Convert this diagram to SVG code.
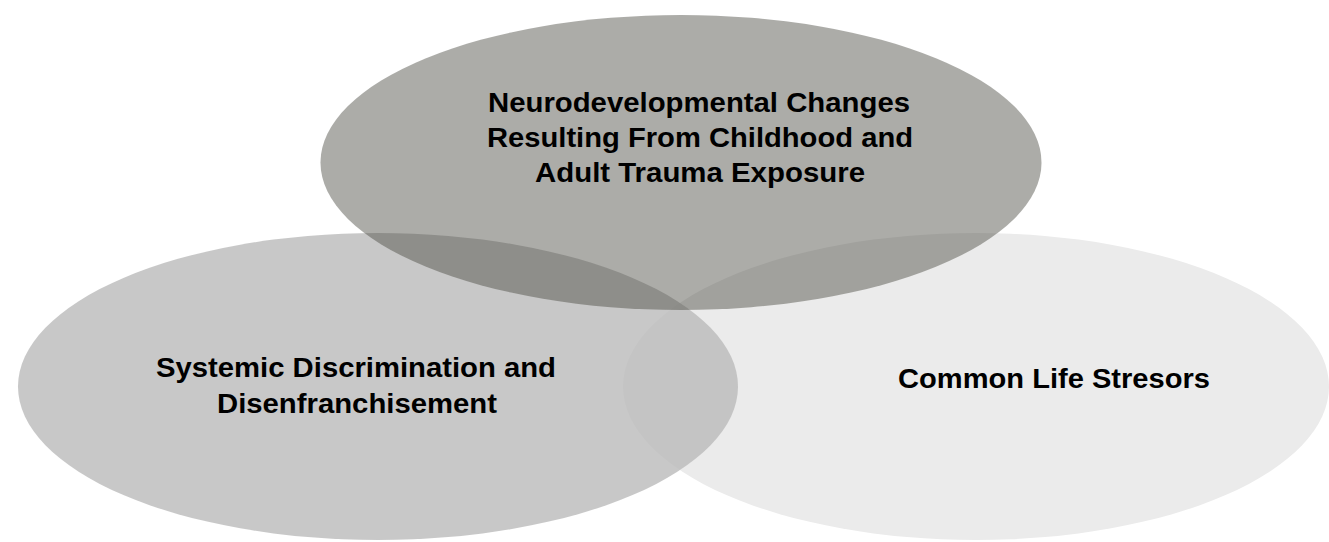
<svg xmlns="http://www.w3.org/2000/svg" width="1329" height="542" viewBox="0 0 1329 542">
  <style>
    .label { font-family: "Liberation Sans", Arial, sans-serif; font-weight: bold; font-size: 27px; fill: #000; text-anchor: middle; }
  </style>
  <rect width="1329" height="542" fill="#ffffff"/>

  <!-- Common life stressors (back, lightest) -->
  <g id="node-stressors">
    <ellipse cx="976" cy="386.5" rx="353" ry="153.5" fill="#ebebeb"/>
    <text class="label" x="1054" y="388" textLength="312" lengthAdjust="spacingAndGlyphs">Common Life Stresors</text>
  </g>

  <!-- Systemic discrimination (middle, translucent) -->
  <g id="node-discrimination">
    <ellipse cx="378" cy="386.5" rx="360" ry="153.5" fill="#bababa" fill-opacity="0.8"/>
    <text class="label" x="356" y="377" textLength="400" lengthAdjust="spacingAndGlyphs">Systemic Discrimination and</text>
    <text class="label" x="357" y="413" textLength="280" lengthAdjust="spacingAndGlyphs">Disenfranchisement</text>
  </g>

  <!-- Neurodevelopmental changes (front, darkest, translucent) -->
  <g id="node-neurodevelopmental">
    <ellipse cx="681" cy="162.5" rx="360.5" ry="147.5" fill="#484840" fill-opacity="0.455"/>
    <text class="label" x="699" y="112" textLength="422" lengthAdjust="spacingAndGlyphs">Neurodevelopmental Changes</text>
    <text class="label" x="700" y="147" textLength="426" lengthAdjust="spacingAndGlyphs">Resulting From Childhood and</text>
    <text class="label" x="700" y="182" textLength="330" lengthAdjust="spacingAndGlyphs">Adult Trauma Exposure</text>
  </g>

  <g id="connectors"/>
</svg>
